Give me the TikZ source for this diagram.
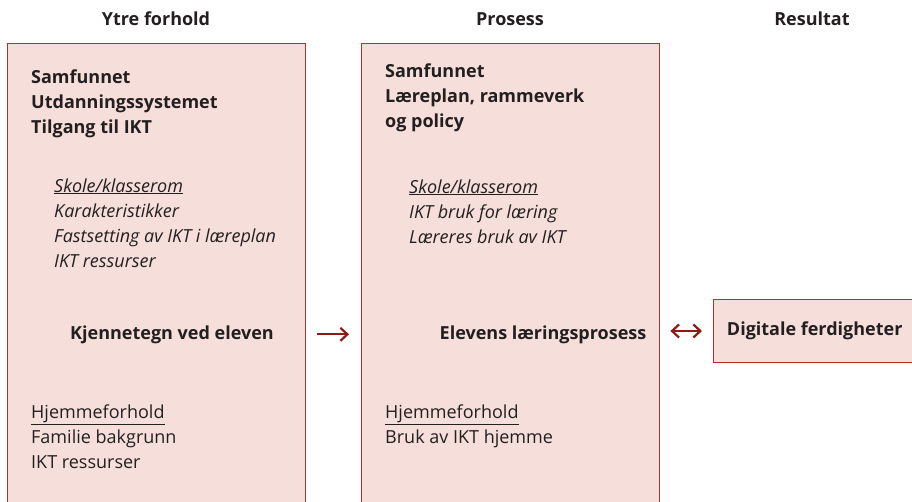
\documentclass[tikz,border=0pt]{standalone}
\usepackage{fontspec}
\setmainfont{Open Sans}
\usetikzlibrary{arrows.meta}
\definecolor{boksfyll}{HTML}{F6DFDA}
\definecolor{boksrand}{HTML}{A8352E}
\definecolor{pilfarge}{HTML}{8C1B16}
\definecolor{tekst}{HTML}{231F20}

\begin{document}
\begin{tikzpicture}[x=1pt,y=-1pt,
  boks/.style={draw=boksrand,fill=boksfyll,line width=1.4pt,inner sep=0pt},
  overskrift/.style={font=\bfseries\fontsize{18}{20}\selectfont,text=tekst,anchor=base},
  fet/.style={font=\bfseries\fontsize{18}{25}\selectfont,text=tekst,align=left,anchor=base west,inner sep=0pt},
  kursiv/.style={font=\itshape\fontsize{18}{25}\selectfont,text=tekst,align=left,anchor=base west,inner sep=0pt},
  vanlig/.style={font=\fontsize{18}{25}\selectfont,text=tekst,align=left,anchor=base west,inner sep=0pt},
  pil/.style={draw=pilfarge,line width=2.2pt,-{Straight Barb[length=7pt,width=13pt]}},
  dobbelpil/.style={draw=pilfarge,line width=2.2pt,{Straight Barb[length=7pt,width=13pt]}-{Straight Barb[length=7pt,width=13pt]}}]
\useasboundingbox (0,0) rectangle (912,501);
\clip (0,0) rectangle (912,501);
\node[overskrift] (h1) at (156,25) {Ytre forhold};
\node[overskrift] (h2) at (510,25) {Prosess};
\node[overskrift] (h3) at (812,25) {Resultat};
\node[boks,anchor=north west,minimum width=298pt,minimum height=480pt] (ytre) at (7,43) {};
\node[boks,anchor=north west,minimum width=298pt,minimum height=480pt] (prosess) at (361,43) {};
\node[boks,anchor=west,minimum width=202pt,minimum height=63pt,font=\bfseries\fontsize{18}{20}\selectfont,text=tekst] (digital) at (713,331) {Digitale ferdigheter};
\node[fet] (samf1) at (31,133) {Samfunnet\\Utdanningssystemet\\Tilgang til IKT};
\node[kursiv] (skole1) at (54,267) {\underline{Skole/klasserom}\\Karakteristikker\\Fastsetting av IKT i læreplan\\IKT ressurser};
\node[fet,anchor=base] (kjenne) at (172,339) {Kjennetegn ved eleven};
\node[vanlig] (hjem1) at (31,468) {\underline{Hjemmeforhold}\\Familie bakgrunn\\IKT ressurser};
\node[fet] (samf2) at (385,127) {Samfunnet\\Læreplan, rammeverk\\og policy};
\node[kursiv] (skole2) at (409,243) {\underline{Skole/klasserom}\\IKT bruk for læring\\Læreres bruk av IKT};
\node[fet,anchor=base] (elevens) at (543,339) {Elevens læringsprosess};
\node[vanlig] (hjem2) at (385,443) {\underline{Hjemmeforhold}\\Bruk av IKT hjemme};
\draw[pil,shorten <=11pt,shorten >=12pt] (ytre.east |- kjenne) -- (prosess.west |- kjenne);
\draw[dobbelpil,shorten <=10pt,shorten >=11pt] (prosess.east |- digital) -- (digital.west);
\end{tikzpicture}
\end{document}
